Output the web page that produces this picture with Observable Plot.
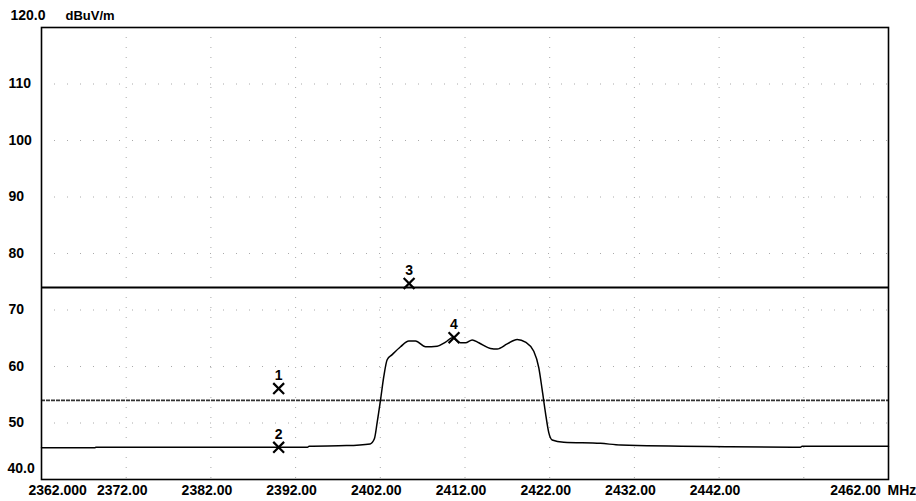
<!DOCTYPE html>
<html>
<head>
<meta charset="utf-8">
<script src="https://cdn.jsdelivr.net/npm/d3@7"></script>
<script src="https://cdn.jsdelivr.net/npm/@observablehq/plot@0.6"></script>
<style>
  html, body { margin: 0; padding: 0; background: #fff; }
  svg { display: block; }
</style>
</head>
<body>
<div id="chart"></div>
<script>
// Spectrum trace (MHz, dBuV/m)
const traceFreq = [2362.0, 2368.3, 2368.4, 2380.0, 2390.0, 2393.4, 2393.6, 2398.0, 2400.8, 2401.3,
  2401.63, 2402.02, 2402.41, 2402.81, 2403.40, 2404.39, 2405.37, 2406.16, 2407.34, 2408.72,
  2409.70, 2410.49, 2411.47, 2412.06, 2412.85, 2413.63, 2415.01, 2415.80, 2416.98, 2418.16,
  2419.14, 2420.12, 2420.71, 2421.11, 2421.50, 2421.89, 2422.29, 2423.66, 2428.0, 2430.4,
  2443.3, 2451.6, 2451.8, 2462.0];
const traceLevel = [45.6, 45.6, 45.7, 45.7, 45.7, 45.7, 45.9, 46.0, 46.3, 47.2,
  50.1, 54.0, 58.2, 61.2, 62.1, 63.5, 64.5, 64.5, 63.5, 63.6,
  64.3, 65.1, 64.2, 64.2, 64.7, 64.2, 63.2, 63.1, 64.0, 64.8,
  64.3, 62.7, 59.8, 55.9, 51.8, 48.3, 47.0, 46.6, 46.4, 46.1,
  45.8, 45.7, 45.9, 45.9];

// Limit lines (dBuV/m)
const limitLines = [74, 54];

// Markers
const markerIds = ["1", "2", "3", "4"];
const markerFreq = [2390.0, 2390.0, 2405.4, 2410.7];
const markerLevel = [56.1, 45.7, 74.7, 65.1];

// Axis ticks and labels
const xGrid = [2372, 2382, 2392, 2402, 2412, 2422, 2432, 2442, 2452];
const xTickValues = [2372, 2382, 2392, 2402, 2412, 2422, 2432, 2442];
const xTickLabels = ["2372.00", "2382.00", "2392.00", "2402.00", "2412.00", "2422.00", "2432.00", "2442.00"];
const xFirstLabel = "2362.000";
const xLastLabel = "2462.00";
const xUnit = "MHz";
const yGrid = [50, 60, 70, 80, 90, 100, 110];
const yTickValues = [110, 100, 90, 80, 70, 60, 50];
const yTickLabels = ["110", "100", "90", "80", "70", "60", "50"];
const yTopLabel = "120.0";
const yBottomLabel = "40.0";
const yUnit = "dBuV/m";

const trace = traceFreq.map((f, i) => ({f, v: traceLevel[i]}));
const markers = markerIds.map((id, i) => ({id, f: markerFreq[i], v: markerLevel[i]}));
const yTicks = yTickValues.map((v, i) => ({v, label: yTickLabels[i]}));
const xTicks = xTickValues.map((f, i) => ({f, label: xTickLabels[i]}));

const font = {fontSize: 14, fontWeight: "bold", fill: "#000"};

const chart = Plot.plot({
  width: 916,
  height: 501,
  marginLeft: 41,
  marginRight: 28,
  marginTop: 27,
  marginBottom: 22,
  style: {fontFamily: "'Liberation Sans', Arial, sans-serif", background: "#fff", overflow: "visible"},
  x: {domain: [2362, 2462], axis: null},
  y: {domain: [40, 120], axis: null},
  marks: [
    Plot.ruleX(xGrid, {stroke: "#aaa", strokeWidth: 1, strokeDasharray: "1,9"}),
    Plot.ruleY(yGrid, {stroke: "#aaa", strokeWidth: 1, strokeDasharray: "1,12"}),
    Plot.ruleY(limitLines.slice(1), {stroke: "#333", strokeWidth: 1.6, strokeDasharray: "4,1"}),
    Plot.ruleY(limitLines.slice(0, 1), {stroke: "#000", strokeWidth: 2}),
    Plot.line(trace, {x: "f", y: "v", stroke: "#000", strokeWidth: 1.5, curve: "monotone-x"}),
    Plot.dot(markers, {x: "f", y: "v", symbol: "times", r: 5, stroke: "#000", strokeWidth: 2.2}),
    Plot.text(markers, {x: "f", y: "v", text: "id", dy: -13, ...font}),
    Plot.frame({stroke: "#000", strokeWidth: 1.6}),
    // y tick labels
    Plot.text(yTicks, {x: () => 2362, y: "v", text: "label", dx: -33, textAnchor: "start", ...font}),
    Plot.text([yTopLabel], {x: () => 2362, y: () => 120, text: d => d, dx: -31, dy: -12, textAnchor: "start", ...font}),
    Plot.text([yUnit], {x: () => 2362, y: () => 120, text: d => d, dx: 24, dy: -12, textAnchor: "start", ...font, fontSize: 13}),
    Plot.text([yBottomLabel], {x: () => 2362, y: () => 40, text: d => d, dx: -34, dy: -11, textAnchor: "start", ...font}),
    // x tick labels
    Plot.text(xTicks, {x: "f", y: () => 40, text: "label", dx: -4, dy: 11, ...font}),
    Plot.text([xFirstLabel], {x: () => 2362, y: () => 40, text: d => d, dx: -13, dy: 11, textAnchor: "start", ...font}),
    Plot.text([xLastLabel], {x: () => 2462, y: () => 40, text: d => d, dx: -33, dy: 11, ...font}),
    Plot.text([xUnit], {x: () => 2462, y: () => 40, text: d => d, dx: -1, dy: 11, textAnchor: "start", ...font})
  ]
});
document.getElementById("chart").appendChild(chart);
</script>
</body>
</html>
